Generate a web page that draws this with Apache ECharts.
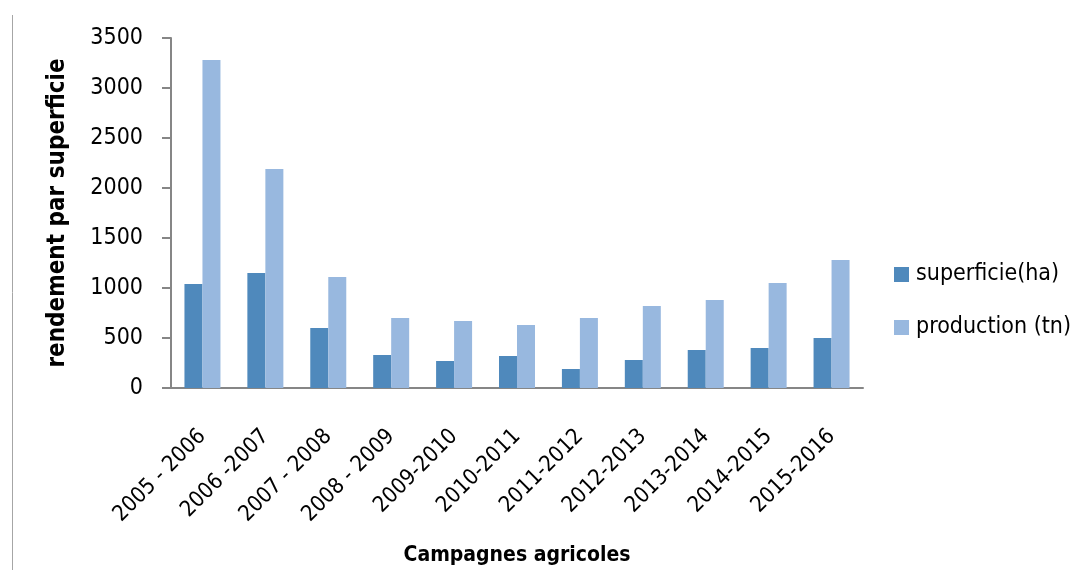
<!DOCTYPE html>
<html>
<head>
<meta charset="utf-8">
<script src="https://cdn.jsdelivr.net/npm/echarts@6/dist/echarts.min.js"></script>
<style>
  html, body { margin: 0; padding: 0; background: #ffffff; }
  #chart { width: 1075px; height: 570px; }
</style>
</head>
<body>
<div id="chart"></div>
<script>
// Campagnes agricoles (x axis categories)
const campagnes = [
  '2005 - 2006', '2006 -2007', '2007 - 2008', '2008 - 2009', '2009-2010',
  '2010-2011', '2011-2012', '2012-2013', '2013-2014', '2014-2015', '2015-2016'
];
// Superficie (ha)
const superficie = [1040, 1150, 600, 330, 270, 320, 190, 280, 380, 400, 500];
// Production (tn)
const production = [3280, 2190, 1110, 700, 670, 630, 700, 820, 880, 1050, 1280];
// Y axis tick range
const yMin = 0, yMax = 3500, yStep = 500;

const FONT = "'DejaVu Sans Condensed', 'Liberation Sans Narrow', 'Open Sans', sans-serif";
const AXIS_GREY = '#868686';

const chart = echarts.init(document.getElementById('chart'), null, { renderer: 'canvas' });

chart.setOption({
  backgroundColor: '#ffffff',
  animation: false,
  grid: { left: 171, right: 212, top: 38, bottom: 182, containLabel: false, outerBoundsMode: 'none' },
  legend: {
    orient: 'vertical',
    left: 889,
    top: 258,
    itemWidth: 15,
    itemHeight: 15,
    itemGap: 30,
    icon: 'rect',
    textStyle: { fontFamily: FONT, fontSize: 23, color: '#000', padding: [0, 0, 0, 2] },
    data: ['superficie(ha)', 'production (tn)']
  },
  xAxis: {
    type: 'category',
    data: campagnes,
    name: 'Campagnes agricoles',
    nameLocation: 'middle',
    nameGap: 157,
    nameTextStyle: { fontFamily: FONT, fontSize: 21, fontWeight: 'bold', color: '#000' },
    axisLine: { lineStyle: { color: AXIS_GREY, width: 2 } },
    axisTick: { show: false },
    axisLabel: {
      interval: 0,
      rotate: 45,
      margin: 45,
      fontFamily: FONT,
      fontSize: 22,
      color: '#000'
    }
  },
  yAxis: {
    type: 'value',
    min: yMin,
    max: yMax,
    interval: yStep,
    name: 'rendement par superficie',
    nameLocation: 'middle',
    nameGap: 101,
    nameRotate: 90,
    nameTextStyle: { fontFamily: FONT, fontSize: 24, fontWeight: 'bold', color: '#000' },
    axisLine: { show: true, lineStyle: { color: AXIS_GREY, width: 2 } },
    axisTick: { show: true, length: 9, lineStyle: { color: AXIS_GREY, width: 2 } },
    splitLine: { show: false },
    axisLabel: {
      margin: 28,
      fontFamily: FONT,
      fontSize: 23,
      color: '#000',
      formatter: (v) => String(v)
    }
  },
  graphic: [{
    type: 'line',
    shape: { x1: 12.5, y1: 15, x2: 12.5, y2: 570 },
    style: { stroke: '#a6a6a6', lineWidth: 1 }
  }],
  series: [
    {
      name: 'superficie(ha)',
      type: 'bar',
      data: superficie,
      barWidth: 18,
      barGap: '0%',
      itemStyle: { color: '#4F89BC' }
    },
    {
      name: 'production (tn)',
      type: 'bar',
      data: production,
      barWidth: 18,
      barGap: '0%',
      itemStyle: { color: '#98B8DF' }
    }
  ]
});
</script>
</body>
</html>
